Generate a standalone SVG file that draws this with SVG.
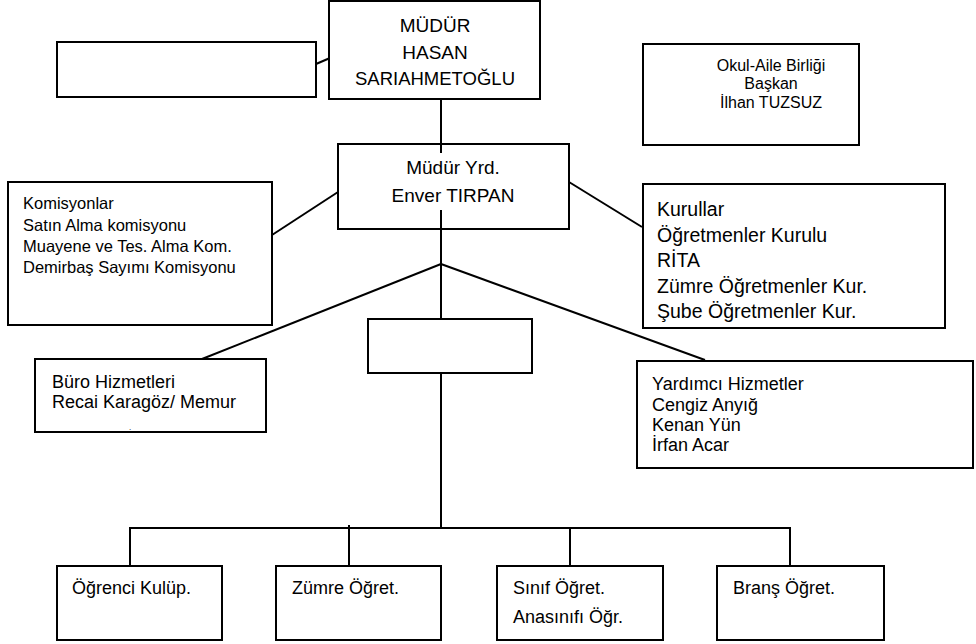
<svg xmlns="http://www.w3.org/2000/svg" width="976" height="644" viewBox="0 0 976 644">
<style>
.box{fill:#fff;stroke:#000;stroke-width:2}
.ln{stroke:#000;stroke-width:2;fill:none}
text{font-family:"Liberation Sans",Arial,sans-serif;fill:#000}
.c{text-anchor:middle}
</style>
<rect width="976" height="644" fill="#fff"/>
<g id="connectors">
<line class="ln" x1="441" y1="99" x2="441" y2="153"/>
<line class="ln" x1="441" y1="210" x2="441" y2="319"/>
<line class="ln" x1="441" y1="373" x2="441" y2="528"/>
<line class="ln" x1="316" y1="64" x2="330" y2="58"/>
<line class="ln" x1="338" y1="192" x2="272" y2="235"/>
<line class="ln" x1="569" y1="182" x2="642" y2="227"/>
<line class="ln" x1="441" y1="264" x2="202" y2="359"/>
<line class="ln" x1="441" y1="264" x2="705" y2="360"/>
<line class="ln" x1="129" y1="528" x2="791" y2="528"/>
<line class="ln" x1="130" y1="528" x2="130" y2="566"/>
<line class="ln" x1="349" y1="525" x2="349" y2="566"/>
<line class="ln" x1="570" y1="528" x2="570" y2="566"/>
<line class="ln" x1="790" y1="528" x2="790" y2="566"/>
</g>
<g id="mudur">
<rect class="box" x="329" y="1" width="211" height="98"/>
<text class="c" x="435" y="32" font-size="19">MÜDÜR</text>
<text class="c" x="435" y="59" font-size="19">HASAN</text>
<text class="c" x="435" y="85" font-size="18.5">SARIAHMETOĞLU</text>
</g>
<g id="bos-sol">
<rect class="box" x="57" y="42" width="259" height="55"/>
</g>
<g id="okul-aile">
<rect class="box" x="643" y="44" width="216" height="101"/>
<text class="c" x="771" y="71" font-size="16">Okul-Aile Birliği</text>
<text class="c" x="771" y="89" font-size="16">Başkan</text>
<text class="c" x="771" y="108" font-size="16">İlhan TUZSUZ</text>
</g>
<g id="mudur-yrd">
<rect class="box" x="338" y="144" width="231" height="85"/>
<line class="ln" x1="441" y1="144" x2="441" y2="153"/>
<line class="ln" x1="441" y1="210" x2="441" y2="229"/>
<text class="c" x="453" y="174" font-size="19">Müdür Yrd.</text>
<text class="c" x="453" y="202" font-size="19">Enver TIRPAN</text>
</g>
<g id="komisyonlar">
<rect class="box" x="8" y="182" width="264" height="143"/>
<text x="23" y="209" font-size="16.5">Komisyonlar</text>
<text x="23" y="231" font-size="16.5">Satın Alma komisyonu</text>
<text x="23" y="252" font-size="16.5">Muayene ve Tes. Alma Kom.</text>
<text x="23" y="273" font-size="16.5">Demirbaş Sayımı Komisyonu</text>
</g>
<g id="kurullar">
<rect class="box" x="643" y="184" width="302" height="144"/>
<text x="657" y="216" font-size="19.5">Kurullar</text>
<text x="657" y="242" font-size="19.5">Öğretmenler Kurulu</text>
<text x="657" y="267" font-size="19.5">RİTA</text>
<text x="657" y="293" font-size="19.5">Zümre Öğretmenler Kur.</text>
<text x="657" y="318" font-size="19.5">Şube Öğretmenler Kur.</text>
</g>
<g id="bos-orta">
<rect class="box" x="368" y="319" width="164" height="54"/>
</g>
<g id="buro">
<rect class="box" x="35" y="359" width="231" height="73"/>
<text x="52" y="388" font-size="18">Büro Hizmetleri</text>
<text x="52" y="408" font-size="18">Recai Karagöz/ Memur</text>
<text x="129" y="430" font-size="8">.</text>
</g>
<g id="yardimci">
<rect class="box" x="637" y="361" width="336" height="107"/>
<text x="652" y="390" font-size="18">Yardımcı Hizmetler</text>
<text x="652" y="411" font-size="18">Cengiz Anyığ</text>
<text x="652" y="431" font-size="18">Kenan Yün</text>
<text x="652" y="451" font-size="18">İrfan Acar</text>
</g>
<g id="ogrenci-kulup">
<rect class="box" x="57" y="566" width="165" height="74"/>
<text x="72" y="594" font-size="18">Öğrenci Kulüp.</text>
</g>
<g id="zumre-ogret">
<rect class="box" x="276" y="566" width="165" height="74"/>
<text x="292" y="594" font-size="18">Zümre Öğret.</text>
</g>
<g id="sinif-ogret">
<rect class="box" x="497" y="566" width="166" height="74"/>
<text x="513" y="594" font-size="18">Sınıf Öğret.</text>
<text x="513" y="623" font-size="18">Anasınıfı Öğr.</text>
</g>
<g id="brans-ogret">
<rect class="box" x="717" y="566" width="167" height="74"/>
<text x="733" y="594" font-size="18">Branş Öğret.</text>
</g>
</svg>
